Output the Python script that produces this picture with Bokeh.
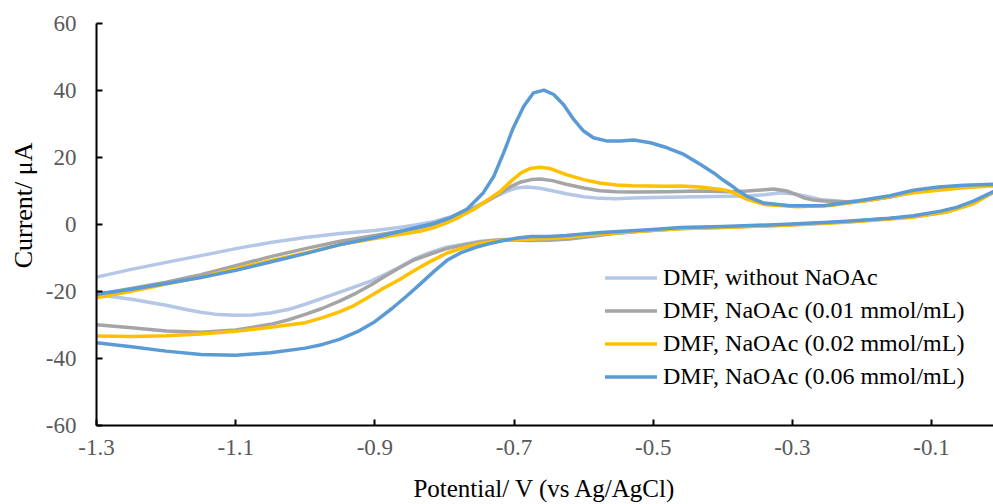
from bokeh.plotting import figure
from bokeh.models import FixedTicker, Range1d, Title
from bokeh.embed import file_html
from bokeh.resources import INLINE

# ---- data (potential in V vs Ag/AgCl, current in uA); each loop: forward branch then reverse ----
pot_none = [-1.300, -1.250, -1.200, -1.150, -1.100, -1.050, -1.000, -0.950, -0.900, -0.863, -0.840, -0.816,
            -0.796, -0.772, -0.749, -0.730, -0.711, -0.697, -0.682, -0.665, -0.645, -0.625, -0.600, -0.577,
            -0.553, -0.530, -0.480, -0.433, -0.365, -0.340, -0.317, -0.293, -0.275, -0.260, -0.222, -0.198,
            -0.160, -0.126, -0.090, -0.054, -0.011, 0.000,
            -0.011, -0.040, -0.078, -0.126, -0.222, -0.317, -0.400, -0.461, -0.520, -0.560, -0.590, -0.620,
            -0.650, -0.680, -0.720, -0.748, -0.770, -0.797, -0.820, -0.844, -0.865, -0.885, -0.905, -0.926,
            -0.950, -0.975, -1.000, -1.025, -1.050, -1.075, -1.100, -1.125, -1.150, -1.175, -1.200, -1.250,
            -1.300]
cur_none = [-15.7, -13.4, -11.3, -9.3, -7.2, -5.4, -3.9, -2.7, -1.8, -0.8, -0.1, 0.8,
            2.0, 3.7, 6.0, 8.0, 9.9, 10.9, 11.2, 10.9, 10.1, 9.2, 8.3, 7.8,
            7.7, 7.9, 8.1, 8.3, 8.5, 8.9, 9.5, 9.0, 8.2, 7.5, 6.7, 7.0,
            8.2, 9.6, 10.6, 11.2, 11.7, 11.8,
            9.6, 6.3, 3.8, 2.3, 0.8, -0.2, -0.8, -1.2, -2.0, -2.7, -3.3, -4.0,
            -4.4, -4.5, -4.5, -5.0, -5.8, -6.8, -8.3, -10.3, -12.8, -14.9, -16.8, -18.4,
            -20.2, -22.0, -23.8, -25.4, -26.4, -27.0, -27.1, -26.9, -26.2, -25.2, -24.1, -22.3,
            -20.9]

pot_001 = [-1.300, -1.250, -1.200, -1.150, -1.100, -1.050, -1.000, -0.950, -0.900, -0.863, -0.835, -0.816,
           -0.797, -0.778, -0.758, -0.740, -0.719, -0.705, -0.690, -0.675, -0.662, -0.645, -0.625, -0.600,
           -0.577, -0.553, -0.530, -0.480, -0.433, -0.389, -0.365, -0.345, -0.327, -0.308, -0.295, -0.284,
           -0.270, -0.255, -0.222, -0.198, -0.160, -0.126, -0.090, -0.054, -0.011, 0.000,
           -0.011, -0.040, -0.078, -0.126, -0.222, -0.317, -0.400, -0.461, -0.520, -0.560, -0.590, -0.620,
           -0.650, -0.680, -0.700, -0.720, -0.748, -0.770, -0.797, -0.820, -0.844, -0.865, -0.885, -0.905,
           -0.926, -0.950, -0.975, -1.000, -1.025, -1.050, -1.100, -1.150, -1.200, -1.250, -1.300]
cur_001 = [-20.9, -19.1, -17.2, -15.0, -12.3, -9.6, -7.2, -5.0, -3.3, -2.0, -1.0, 0.0,
           1.2, 2.8, 4.8, 6.8, 9.5, 11.3, 12.7, 13.4, 13.6, 13.1, 12.0, 10.9,
           10.1, 9.8, 9.7, 9.8, 10.0, 9.8, 10.0, 10.3, 10.6, 10.0, 9.0, 8.0,
           7.3, 7.0, 6.8, 7.0, 8.2, 9.6, 10.6, 11.2, 11.7, 11.8,
           9.6, 6.3, 3.8, 2.3, 0.8, -0.2, -0.8, -1.2, -2.0, -2.8, -3.6, -4.3,
           -4.7, -4.8, -4.6, -4.6, -5.2, -6.0, -7.2, -8.8, -10.6, -13.0, -15.4, -18.0,
           -20.4, -22.8, -25.0, -26.8, -28.5, -29.8, -31.5, -32.2, -31.8, -30.8, -29.9]

pot_002 = [-1.300, -1.250, -1.200, -1.150, -1.100, -1.050, -1.000, -0.950, -0.900, -0.863, -0.835, -0.816,
           -0.797, -0.778, -0.758, -0.740, -0.719, -0.705, -0.690, -0.677, -0.663, -0.648, -0.625, -0.600,
           -0.577, -0.553, -0.530, -0.480, -0.461, -0.433, -0.400, -0.389, -0.365, -0.341, -0.293, -0.245,
           -0.198, -0.126, -0.054, -0.011, 0.000,
           -0.011, -0.040, -0.078, -0.126, -0.222, -0.317, -0.400, -0.461, -0.520, -0.570, -0.620, -0.650,
           -0.680, -0.700, -0.720, -0.748, -0.770, -0.796, -0.820, -0.844, -0.865, -0.890, -0.910, -0.930,
           -0.950, -0.975, -1.000, -1.050, -1.100, -1.150, -1.200, -1.250, -1.300]
cur_002 = [-21.9, -19.9, -17.8, -15.7, -13.2, -10.8, -8.5, -6.0, -4.2, -2.9, -2.0, -1.0,
           0.5, 2.3, 4.5, 7.0, 10.0, 12.8, 15.4, 16.7, 17.1, 16.7, 14.9, 13.4,
           12.4, 11.8, 11.6, 11.4, 11.5, 11.2, 10.4, 9.9, 7.5, 6.0, 5.3, 5.7,
           7.0, 9.5, 11.0, 11.6, 11.7,
           9.7, 6.2, 3.7, 2.2, 0.7, -0.3, -0.9, -1.3, -2.0, -2.8, -3.7, -4.2,
           -4.4, -4.5, -4.8, -5.6, -6.8, -8.5, -11.0, -13.8, -16.5, -19.3, -21.8, -24.2,
           -26.0, -27.8, -29.3, -30.7, -31.9, -32.7, -33.2, -33.4, -33.3]

pot_006 = [-1.300, -1.250, -1.200, -1.150, -1.100, -1.050, -1.000, -0.950, -0.900, -0.863, -0.816, -0.792,
           -0.768, -0.744, -0.729, -0.715, -0.701, -0.686, -0.672, -0.657, -0.643, -0.629, -0.614, -0.600,
           -0.586, -0.566, -0.547, -0.528, -0.504, -0.480, -0.456, -0.432, -0.413, -0.399, -0.389, -0.380,
           -0.365, -0.341, -0.303, -0.255, -0.207, -0.160, -0.126, -0.090, -0.054, -0.011, 0.000,
           -0.011, -0.040, -0.063, -0.087, -0.126, -0.160, -0.222, -0.255, -0.317, -0.400, -0.461, -0.495,
           -0.543, -0.575, -0.600, -0.625, -0.650, -0.675, -0.695, -0.715, -0.735, -0.755, -0.775, -0.795,
           -0.815, -0.835, -0.855, -0.875, -0.900, -0.925, -0.950, -0.975, -1.000, -1.050, -1.100, -1.150,
           -1.200, -1.250, -1.300]
cur_006 = [-20.8, -19.3, -17.6, -15.8, -13.7, -11.2, -8.7, -6.0, -3.9, -2.0, 0.3, 2.0,
           4.5, 9.5, 14.4, 21.4, 28.9, 35.3, 39.3, 40.1, 38.8, 35.8, 31.3, 27.9,
           25.9, 24.9, 24.9, 25.2, 24.4, 22.9, 20.9, 17.9, 15.4, 13.2, 11.8, 10.4,
           8.4, 6.4, 5.6, 5.6, 7.0, 8.6, 10.2, 11.2, 11.7, 12.0, 12.1,
           9.8, 7.0, 5.2, 4.0, 2.6, 1.9, 1.0, 0.6, 0.0, -0.6, -0.9, -1.4,
           -2.0, -2.4, -2.8, -3.3, -3.6, -3.6, -4.0, -4.8, -5.7, -6.8, -8.3, -10.5,
           -14.0, -17.8, -21.5, -25.0, -29.0, -32.0, -34.2, -35.8, -36.9, -38.3, -39.0, -38.8,
           -37.8, -36.5, -35.3]

series_names = ["DMF, without NaOAc", "DMF, NaOAc (0.01 mmol/mL)",
                "DMF, NaOAc (0.02 mmol/mL)", "DMF, NaOAc (0.06 mmol/mL)"]
series_pot = [pot_none, pot_001, pot_002, pot_006]
series_cur = [cur_none, cur_001, cur_002, cur_006]
series_colors = ["#B4C7E7", "#A5A5A5", "#FFC000", "#5B9BD5"]

x_ticks = [-1.3, -1.1, -0.9, -0.7, -0.5, -0.3, -0.1]
x_tick_labels = ["-1.3", "-1.1", "-0.9", "-0.7", "-0.5", "-0.3", "-0.1"]
y_ticks = [-60, -40, -20, 0, 20, 40, 60]
y_tick_labels = ["-60", "-40", "-20", "0", "20", "40", "60"]

FONT = "Liberation Serif"

p = figure(width=993, height=504, output_backend="svg", toolbar_location=None,
           x_range=Range1d(-1.3, -0.011), y_range=Range1d(-60, 60),
           min_border_left=96, min_border_right=0, min_border_top=23, min_border_bottom=78)
p.outline_line_color = None
p.xgrid.visible = False
p.ygrid.visible = False
p.background_fill_color = "white"
p.border_fill_color = "white"

for name, xs, ys, col in zip(series_names, series_pot, series_cur, series_colors):
    p.line(xs, ys, line_color=col, line_width=3.5, legend_label=name,
           line_join="round", line_cap="round")

for ax, ticks, labels in ((p.xaxis[0], x_ticks, x_tick_labels), (p.yaxis[0], y_ticks, y_tick_labels)):
    ax.ticker = FixedTicker(ticks=ticks)
    ax.major_label_overrides = {t: l for t, l in zip(ticks, labels)}
    ax.minor_tick_line_color = None
    ax.major_tick_in = 6
    ax.major_tick_out = 0
    ax.axis_line_color = "black"
    ax.axis_line_width = 2
    ax.major_tick_line_color = "black"
    ax.major_tick_line_width = 2
    ax.major_label_text_font = FONT
    ax.major_label_text_font_size = "23px"
    ax.major_label_text_color = "#595959"
    ax.axis_label_text_font = FONT
    ax.axis_label_text_font_size = "25px"
    ax.axis_label_text_font_style = "normal"
    ax.axis_label_text_color = "black"

p.xaxis.axis_label = "Potential/ V (vs Ag/AgCl)"
p.xaxis.major_label_standoff = 14
p.xaxis.axis_label_standoff = 17
p.yaxis.major_label_standoff = 20

# y-axis title placed slightly above the frame centre, as in the reference
ytitle = Title(text="Current/ μA", align="right", offset=119, vertical_align="middle",
               text_font=FONT, text_font_size="26px", text_font_style="normal",
               text_color="black", standoff=8)
p.add_layout(ytitle, "left")

lg = p.legend[0]
lg.location = (509, 35)
lg.border_line_color = None
lg.background_fill_alpha = 0
lg.padding = 0
lg.margin = 0
lg.spacing = 6
lg.glyph_width = 52
lg.glyph_height = 27
lg.label_height = 27
lg.label_standoff = 6
lg.label_text_font = FONT
lg.label_text_font_size = "24px"
lg.label_text_color = "black"

open("out.html", "w").write(file_html(p, INLINE))
